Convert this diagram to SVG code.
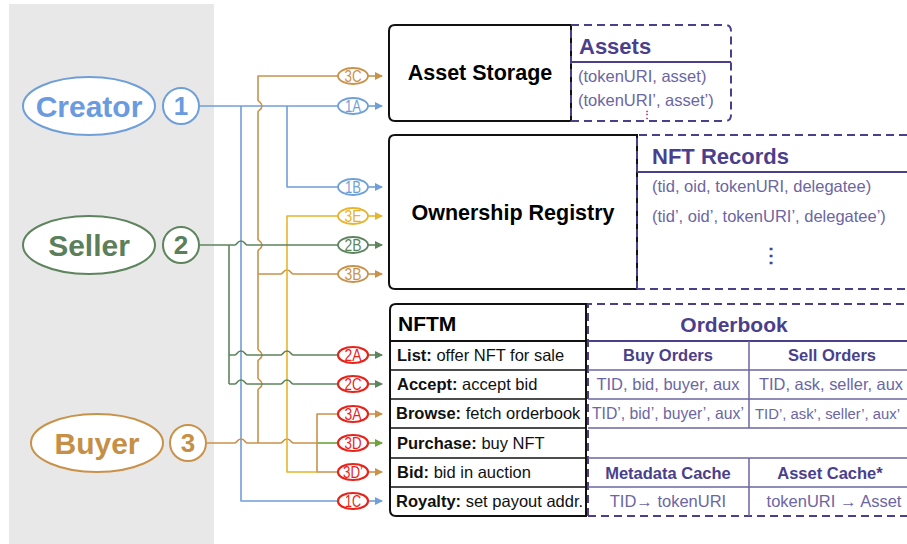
<svg xmlns="http://www.w3.org/2000/svg" width="907" height="544" viewBox="0 0 907 544">
  <defs>
    <marker id="arrow-blue" viewBox="0 0 8 8" refX="7" refY="4" markerWidth="8" markerHeight="8" markerUnits="userSpaceOnUse" orient="auto">
      <path d="M0,0 L8,4 L0,8 z" fill="#6f9fd8"/>
    </marker>
    <marker id="arrow-orange" viewBox="0 0 8 8" refX="7" refY="4" markerWidth="8" markerHeight="8" markerUnits="userSpaceOnUse" orient="auto">
      <path d="M0,0 L8,4 L0,8 z" fill="#c9924a"/>
    </marker>
    <marker id="arrow-yellow" viewBox="0 0 8 8" refX="7" refY="4" markerWidth="8" markerHeight="8" markerUnits="userSpaceOnUse" orient="auto">
      <path d="M0,0 L8,4 L0,8 z" fill="#e6b52c"/>
    </marker>
    <marker id="arrow-green" viewBox="0 0 8 8" refX="7" refY="4" markerWidth="8" markerHeight="8" markerUnits="userSpaceOnUse" orient="auto">
      <path d="M0,0 L8,4 L0,8 z" fill="#5e845e"/>
    </marker>
    <marker id="arrow-lime" viewBox="0 0 8 8" refX="7" refY="4" markerWidth="8" markerHeight="8" markerUnits="userSpaceOnUse" orient="auto">
      <path d="M0,0 L8,4 L0,8 z" fill="#6fa23c"/>
    </marker>
  </defs>
  <style>
    text { font-family: "Liberation Sans", Arial, sans-serif; }
    .wire { fill: none; stroke-width: 1.6; stroke-linejoin: round; }
    .blue { stroke: #6f9fd8; }
    .orange { stroke: #c9924a; }
    .yellow { stroke: #e6b52c; }
    .green { stroke: #5e845e; }
    .lime { stroke: #6fa23c; }
    .actor { fill: #ffffff; stroke-width: 2; }
    .actor-name { font-size: 30px; font-weight: bold; text-anchor: middle; }
    .actor-num { font-size: 26px; font-weight: bold; text-anchor: middle; }
    .tag { fill: #ffffff; stroke-width: 1.8; }
    .tag-red { stroke: #e8231a; stroke-width: 2.2; }
    .tag-text { font-size: 16px; text-anchor: middle; }
    .box { fill: #ffffff; stroke: #111111; stroke-width: 2; }
    .box-title { font-size: 21.5px; font-weight: bold; fill: #000000; text-anchor: middle; }
    .dash { fill: none; stroke: #4b3f8c; stroke-width: 2; stroke-dasharray: 8 5; }
    .rule { stroke: #4b3f8c; stroke-width: 1.8; }
    .rule-thin { stroke: #6b66a3; stroke-width: 1.5; }
    .store-title { font-size: 22px; font-weight: bold; fill: #4b3f8c; }
    .item { font-size: 16.5px; fill: #6b66a3; }
    .cell { font-size: 16.5px; fill: #6b66a3; text-anchor: middle; }
    .cell-l { font-size: 16.5px; fill: #6b66a3; text-anchor: start; }
    .cell-head { font-size: 16.5px; font-weight: bold; fill: #4b3f8c; text-anchor: middle; }
    .op { font-size: 16.5px; fill: #111111; }
    .row-line { stroke: #111111; stroke-width: 1.5; }
  </style>

  <!-- actor lane -->
  <rect x="9" y="4" width="205" height="540" fill="#e8e8e8"/>

  <g id="creator">
    <ellipse class="actor" cx="89" cy="106" rx="66" ry="29" stroke="#6f9fd8"/>
    <text class="actor-name" x="89" y="117" fill="#6a9be0">Creator</text>
    <circle class="actor" cx="181" cy="106" r="18" stroke="#6f9fd8"/>
    <text class="actor-num" x="181" y="115" fill="#6a9be0">1</text>
  </g>

  <g id="seller">
    <ellipse class="actor" cx="89" cy="245" rx="66" ry="29" stroke="#5e845e"/>
    <text class="actor-name" x="89" y="256" fill="#5a7f5a">Seller</text>
    <circle class="actor" cx="181" cy="245" r="18" stroke="#5e845e"/>
    <text class="actor-num" x="181" y="254" fill="#5a7f5a">2</text>
  </g>

  <g id="buyer">
    <ellipse class="actor" cx="97" cy="443" rx="66" ry="29" stroke="#c9924a"/>
    <text class="actor-name" x="97" y="454" fill="#c58f45">Buyer</text>
    <circle class="actor" cx="188" cy="443" r="18" stroke="#c9924a"/>
    <text class="actor-num" x="188" y="452" fill="#c58f45">3</text>
  </g>

  <!-- connectors: horizontal hops bump upward, vertical hops bump right -->
  <g id="connectors">
    <!-- creator -->
    <path class="wire blue" d="M199,106 H338"/>
    <path class="wire blue" d="M287,106 V187 H338"/>
    <path class="wire blue" d="M241,106 V501 H338"/>
    <!-- buyer trunk -->
    <path class="wire orange" d="M338,76 H258 V100 C258,102 262,102 262,106 C262,110 258,110 258,112
      V239 C258,241 262,241 262,245 C262,249 258,249 258,251
      V349 C258,351 262,351 262,355 C262,359 258,359 258,361
      V378 C258,380 262,380 262,384 C262,388 258,388 258,390 V443"/>
    <path class="wire orange" d="M258,274 H281 C283,274 283,270 287,270 C291,270 291,274 293,274 H338"/>
    <path class="wire orange" d="M207,443 H235 C237,443 237,439 241,439 C245,439 245,443 247,443
      H281 C283,443 283,439 287,439 C291,439 291,443 293,443 H317"/>
    <path class="wire lime" d="M317,443 H338"/>
    <path class="wire orange" d="M338,414 H317 V472 H338"/>
    <path class="wire yellow" d="M338,216 H287 V472 H317"/>
    <!-- seller -->
    <path class="wire green" d="M199,245 H235 C237,245 237,241 241,241 C245,241 245,245 247,245 H338"/>
    <path class="wire green" d="M229,245 V384"/>
    <path class="wire green" d="M229,355 H235 C237,355 237,351 241,351 C245,351 245,355 247,355
      H281 C283,355 283,351 287,351 C291,351 291,355 293,355 H338"/>
    <path class="wire green" d="M229,384 H235 C237,384 237,380 241,380 C245,380 245,384 247,384
      H281 C283,384 283,380 287,380 C291,380 291,384 293,384 H338"/>

    <!-- step arrows -->
    <path class="wire orange" d="M368,76 H382" marker-end="url(#arrow-orange)"/>
    <path class="wire blue" d="M368,106 H382" marker-end="url(#arrow-blue)"/>
    <path class="wire blue" d="M368,187 H382" marker-end="url(#arrow-blue)"/>
    <path class="wire yellow" d="M368,216 H382" marker-end="url(#arrow-yellow)"/>
    <path class="wire green" d="M368,245 H382" marker-end="url(#arrow-green)"/>
    <path class="wire orange" d="M368,274 H382" marker-end="url(#arrow-orange)"/>
    <path class="wire green" d="M368,355 H382" marker-end="url(#arrow-green)"/>
    <path class="wire green" d="M368,384 H382" marker-end="url(#arrow-green)"/>
    <path class="wire orange" d="M368,414 H382" marker-end="url(#arrow-orange)"/>
    <path class="wire lime" d="M368,443 H382" marker-end="url(#arrow-lime)"/>
    <path class="wire orange" d="M368,472 H382" marker-end="url(#arrow-orange)"/>
    <path class="wire blue" d="M368,501 H382" marker-end="url(#arrow-blue)"/>

    <!-- step tags -->
    <g id="tag-3C"><ellipse class="tag" cx="353" cy="76" rx="15" ry="8" stroke="#c9924a"/><text class="tag-text" x="353" y="81.5" fill="#c9924a" textLength="17" lengthAdjust="spacingAndGlyphs">3C</text></g>
    <g id="tag-1A"><ellipse class="tag" cx="353" cy="106" rx="15" ry="8" stroke="#6f9fd8"/><text class="tag-text" x="353" y="111.5" fill="#6f9fd8" textLength="16" lengthAdjust="spacingAndGlyphs">1A</text></g>
    <g id="tag-1B"><ellipse class="tag" cx="353" cy="187" rx="15" ry="8" stroke="#6f9fd8"/><text class="tag-text" x="353" y="192.5" fill="#6f9fd8" textLength="16" lengthAdjust="spacingAndGlyphs">1B</text></g>
    <g id="tag-3E"><ellipse class="tag" cx="353" cy="216" rx="15" ry="8" stroke="#e6b52c"/><text class="tag-text" x="353" y="221.5" fill="#e6b52c" textLength="17" lengthAdjust="spacingAndGlyphs">3E</text></g>
    <g id="tag-2B"><ellipse class="tag" cx="353" cy="245" rx="15" ry="8" stroke="#5e845e"/><text class="tag-text" x="353" y="250.5" fill="#5e845e" textLength="17" lengthAdjust="spacingAndGlyphs">2B</text></g>
    <g id="tag-3B"><ellipse class="tag" cx="353" cy="274" rx="15" ry="8" stroke="#c9924a"/><text class="tag-text" x="353" y="279.5" fill="#c9924a" textLength="17" lengthAdjust="spacingAndGlyphs">3B</text></g>
    <g id="tag-2A"><ellipse class="tag tag-red" cx="353" cy="355" rx="15" ry="8"/><text class="tag-text" x="353" y="360.5" fill="#e8231a" textLength="17" lengthAdjust="spacingAndGlyphs">2A</text></g>
    <g id="tag-2C"><ellipse class="tag tag-red" cx="353" cy="384" rx="15" ry="8"/><text class="tag-text" x="353" y="389.5" fill="#e8231a" textLength="17" lengthAdjust="spacingAndGlyphs">2C</text></g>
    <g id="tag-3A"><ellipse class="tag tag-red" cx="353" cy="414" rx="15" ry="8"/><text class="tag-text" x="353" y="419.5" fill="#e8231a" textLength="17" lengthAdjust="spacingAndGlyphs">3A</text></g>
    <g id="tag-3D"><ellipse class="tag tag-red" cx="353" cy="443" rx="15" ry="8"/><text class="tag-text" x="353" y="448.5" fill="#e8231a" textLength="17" lengthAdjust="spacingAndGlyphs">3D</text></g>
    <g id="tag-3Dp"><ellipse class="tag tag-red" cx="353" cy="472" rx="15" ry="8"/><text class="tag-text" x="353" y="477.5" fill="#e8231a" textLength="20" lengthAdjust="spacingAndGlyphs">3D’</text></g>
    <g id="tag-1C"><ellipse class="tag tag-red" cx="353" cy="501" rx="15" ry="8"/><text class="tag-text" x="353" y="506.5" fill="#e8231a" textLength="16" lengthAdjust="spacingAndGlyphs">1C</text></g>
  </g>

  <!-- asset storage and its table -->
  <g id="asset-storage">
    <path class="box" d="M571,25 H395 Q389,25 389,31 V115 Q389,121 395,121 H571 Z"/>
    <text class="box-title" x="480" y="80">Asset Storage</text>
  </g>
  <g id="assets">
    <path class="dash" d="M571,25 H725 Q731,25 731,31 V115 Q731,121 725,121 H571 V25"/>
    <line class="rule" x1="571" y1="62" x2="731" y2="62"/>
    <text class="store-title" x="579" y="54">Assets</text>
    <text class="item" x="578" y="82">(tokenURI, asset)</text>
    <text class="item" x="578" y="106">(tokenURI’, asset’)</text>
    <text x="647" y="118" font-size="10" font-weight="bold" fill="#4b3f8c" text-anchor="middle" font-family="DejaVu Sans, sans-serif">⋮</text>
  </g>

  <!-- ownership registry and its records -->
  <g id="ownership-registry">
    <path class="box" d="M637,135 H395 Q389,135 389,141 V283 Q389,289 395,289 H637 Z"/>
    <text class="box-title" x="513" y="220">Ownership Registry</text>
  </g>
  <g id="nft-records">
    <path class="dash" d="M637,289 V135 H912 M637,289 H912"/>
    <line class="rule" x1="637" y1="172" x2="907" y2="172"/>
    <text class="store-title" x="652" y="164">NFT Records</text>
    <text class="item" x="652" y="192">(tid, oid, tokenURI, delegatee)</text>
    <text class="item" x="652" y="222">(tid’, oid’, tokenURI’, delegatee’)</text>
    <text x="771" y="262" font-size="20" font-weight="bold" fill="#4b3f8c" text-anchor="middle" font-family="DejaVu Sans, sans-serif">⋮</text>
  </g>

  <!-- marketplace operations -->
  <g id="nftm">
    <path class="box" d="M586,304 H396 Q390,304 390,310 V510 Q390,516 396,516 H586 Z"/>
    <line x1="390" y1="341" x2="586" y2="341" stroke="#111111" stroke-width="2"/>
    <line class="row-line" x1="390" y1="370" x2="586" y2="370"/>
    <line class="row-line" x1="390" y1="399" x2="586" y2="399"/>
    <line class="row-line" x1="390" y1="428" x2="586" y2="428"/>
    <line class="row-line" x1="390" y1="458" x2="586" y2="458"/>
    <line class="row-line" x1="390" y1="487" x2="586" y2="487"/>
    <text x="398" y="331" font-size="21px" font-weight="bold" fill="#000000">NFTM</text>
    <text class="op" x="397" y="361"><tspan font-weight="bold">List:</tspan> offer NFT for sale</text>
    <text class="op" x="397" y="390"><tspan font-weight="bold">Accept:</tspan> accept bid</text>
    <text class="op" x="396" y="419"><tspan font-weight="bold">Browse:</tspan> fetch orderbook</text>
    <text class="op" x="397" y="449"><tspan font-weight="bold">Purchase:</tspan> buy NFT</text>
    <text class="op" x="397" y="478"><tspan font-weight="bold">Bid:</tspan> bid in auction</text>
    <text class="op" x="396" y="507"><tspan font-weight="bold">Royalty:</tspan> set payout addr.</text>
  </g>

  <!-- orderbook and caches -->
  <g id="orderbook">
    <path class="dash" d="M588,516 V304 H912 M588,516 H912"/>
    <line class="rule" x1="588" y1="341" x2="907" y2="341"/>
    <line class="rule-thin" x1="588" y1="370" x2="907" y2="370"/>
    <line class="rule-thin" x1="588" y1="399" x2="907" y2="399"/>
    <line class="rule-thin" x1="588" y1="428" x2="907" y2="428"/>
    <line class="rule-thin" x1="588" y1="458" x2="907" y2="458"/>
    <line class="rule-thin" x1="588" y1="487" x2="907" y2="487"/>
    <line class="rule-thin" x1="749" y1="341" x2="749" y2="428"/>
    <line class="rule-thin" x1="749" y1="458" x2="749" y2="516"/>
    <text x="734" y="332" font-size="21px" font-weight="bold" fill="#4b3f8c" text-anchor="middle">Orderbook</text>
    <text class="cell-head" x="668" y="361">Buy Orders</text>
    <text class="cell-head" x="832" y="361">Sell Orders</text>
    <text class="cell" x="668" y="390">TID, bid, buyer, aux</text>
    <text class="cell-l" x="759" y="390" textLength="144" lengthAdjust="spacingAndGlyphs">TID, ask, seller, aux</text>
    <text class="cell" x="668" y="419" textLength="152" lengthAdjust="spacingAndGlyphs">TID’, bid’, buyer’, aux’</text>
    <text class="cell-l" x="755" y="419" font-size="14.7" textLength="145" lengthAdjust="spacingAndGlyphs" style="font-size:14.7px">TID’, ask’, seller’, aux’</text>
    <text class="cell-head" x="668" y="479">Metadata Cache</text>
    <text class="cell-head" x="830" y="479">Asset Cache*</text>
    <text class="cell" x="668" y="507">TID→ tokenURI</text>
    <text class="cell" x="834" y="507">tokenURI → Asset</text>
  </g>
</svg>
